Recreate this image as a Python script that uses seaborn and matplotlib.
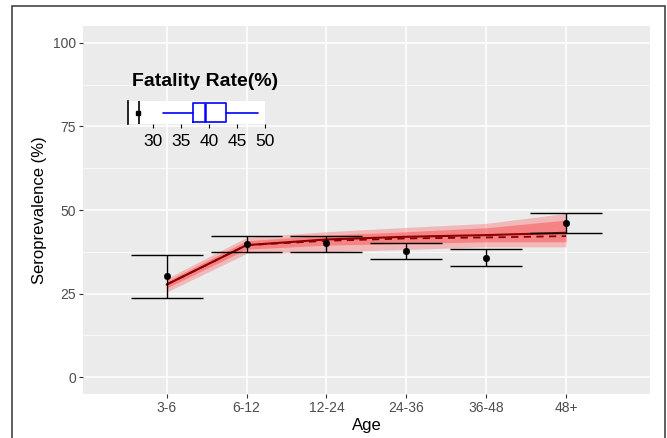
import matplotlib
matplotlib.use("Agg")
import matplotlib.pyplot as plt
import seaborn as sns
import numpy as np
import pandas as pd
from matplotlib.patches import Rectangle

# age groups on the x axis
age_groups = ["3-6", "6-12", "12-24", "24-36", "36-48", "48+"]

# observed seroprevalence with its interval
obs_mean = [30.2, 39.8, 40.0, 37.8, 35.8, 46.2]
obs_low = [23.7, 37.3, 37.5, 35.3, 33.2, 43.2]
obs_high = [36.7, 42.3, 42.3, 40.2, 38.4, 49.0]

# model fits
fit_solid = [27.7, 39.5, 41.2, 42.0, 42.5, 43.2]
fit_dashed = [27.7, 39.5, 40.8, 41.5, 41.8, 42.2]
outer_low = [25.5, 37.0, 37.5, 38.2, 39.0, 39.0]
outer_high = [29.5, 41.8, 43.5, 44.8, 46.0, 49.0]
inner_low = [26.7, 38.3, 39.5, 40.0, 40.5, 40.5]
inner_high = [28.7, 40.8, 42.5, 43.5, 44.7, 47.0]

# fatality rate summary (inset)
fatality_stats = {"whislo": 31.7, "q1": 37.1, "med": 39.2, "q3": 43.0, "whishi": 48.8}
fatality_point = 27.2
fatality_line = 27.5

sns.set_theme(style="darkgrid")
plt.rcParams["font.family"] = ["Liberation Sans", "DejaVu Sans"]

df = pd.DataFrame({
    "pos": np.arange(1, len(age_groups) + 1),
    "obs": obs_mean,
    "solid": fit_solid,
    "dashed": fit_dashed,
})

fig = plt.figure(figsize=(6.67, 4.38), dpi=100)
fig.patch.set_facecolor("white")
ax = fig.add_axes([0.124, 0.1005, 0.8505, 0.840])
ax.set_facecolor("#EBEBEB")

# ribbons
ax.fill_between(df["pos"], outer_low, outer_high, color="#FF2020", alpha=0.25, lw=0)
ax.fill_between(df["pos"], inner_low, inner_high, color="#FF2020", alpha=0.35, lw=0)

# fitted lines
sns.lineplot(data=df, x="pos", y="dashed", ax=ax, color="#8B0000", lw=1.3,
             linestyle=(0, (4, 3)), errorbar=None)
sns.lineplot(data=df, x="pos", y="solid", ax=ax, color="#8B0000", lw=1.5, errorbar=None)

# error bars
ax.vlines(df["pos"], obs_low, obs_high, color="black", lw=1.0)
ax.hlines(obs_low, df["pos"] - 0.45, df["pos"] + 0.45, color="black", lw=1.0)
ax.hlines(obs_high, df["pos"] - 0.45, df["pos"] + 0.45, color="black", lw=1.0)
sns.scatterplot(data=df, x="pos", y="obs", ax=ax, color="black", s=22,
                edgecolor="black", zorder=5)

ax.set_xlim(-0.05, 7.05)
ax.set_ylim(-5, 105)
ax.set_xticks(df["pos"])
ax.set_xticklabels(age_groups)
ax.set_yticks([0, 25, 50, 75, 100])
ax.set_yticks([12.5, 37.5, 62.5, 87.5], minor=True)
ax.grid(which="major", color="white", lw=1.1)
ax.grid(which="minor", axis="y", color="white", lw=0.5)
ax.grid(which="minor", axis="x", visible=False)
ax.tick_params(axis="both", which="major", length=3, width=0.8, color="#333333",
               labelcolor="#4D4D4D", labelsize=10, pad=2, direction="out",
               bottom=True, left=True)
ax.tick_params(which="minor", length=0)
for s in ax.spines.values():
    s.set_visible(False)
ax.set_xlabel("Age", fontsize=12, color="black", labelpad=2)
ax.set_ylabel("Seroprevalence (%)", fontsize=12, color="black", labelpad=4)

# inset: fatality rate
ins = fig.add_axes([0.1919, 0.7162, 0.2054, 0.0532])
ins.set_facecolor("white")
ins.grid(False)
ins.bxp([dict(fatality_stats, fliers=[])], positions=[0], widths=0.8, vert=False,
        showfliers=False, showcaps=False,
        boxprops=dict(color="#0000FF", lw=1.2),
        whiskerprops=dict(color="#0000FF", lw=1.2),
        medianprops=dict(color="#0000FF", lw=1.8))
ins.axvline(fatality_line, color="black", lw=1.2)
ins.plot([fatality_point], [0], marker="s", color="black", ms=3.5)
ins.set_xlim(25.5, 50)
ins.set_ylim(-0.49, 0.49)
ins.set_xticks([30, 35, 40, 45, 50])
ins.set_xticklabels(["30", "35", "40", "45", "50"])
ins.set_yticks([])
for name, s in ins.spines.items():
    s.set_visible(name == "left")
ins.spines["left"].set_color("black")
ins.spines["left"].set_linewidth(1.2)
ins.tick_params(axis="x", length=3, width=0.8, color="black", labelcolor="black",
                labelsize=12.5, pad=4, bottom=True)
fig.text(205 / 667, 1 - 82 / 438, "Fatality Rate(%)", fontsize=14, fontweight="bold",
         color="black", ha="center", va="center")

# outer frame
fig.patches.append(Rectangle((12 / 667, -0.02), 653 / 667, 1 - 6 / 438 + 0.02,
                             transform=fig.transFigure, fill=False,
                             edgecolor="#444444", lw=1.2))

fig.savefig("out.png", dpi=100)
